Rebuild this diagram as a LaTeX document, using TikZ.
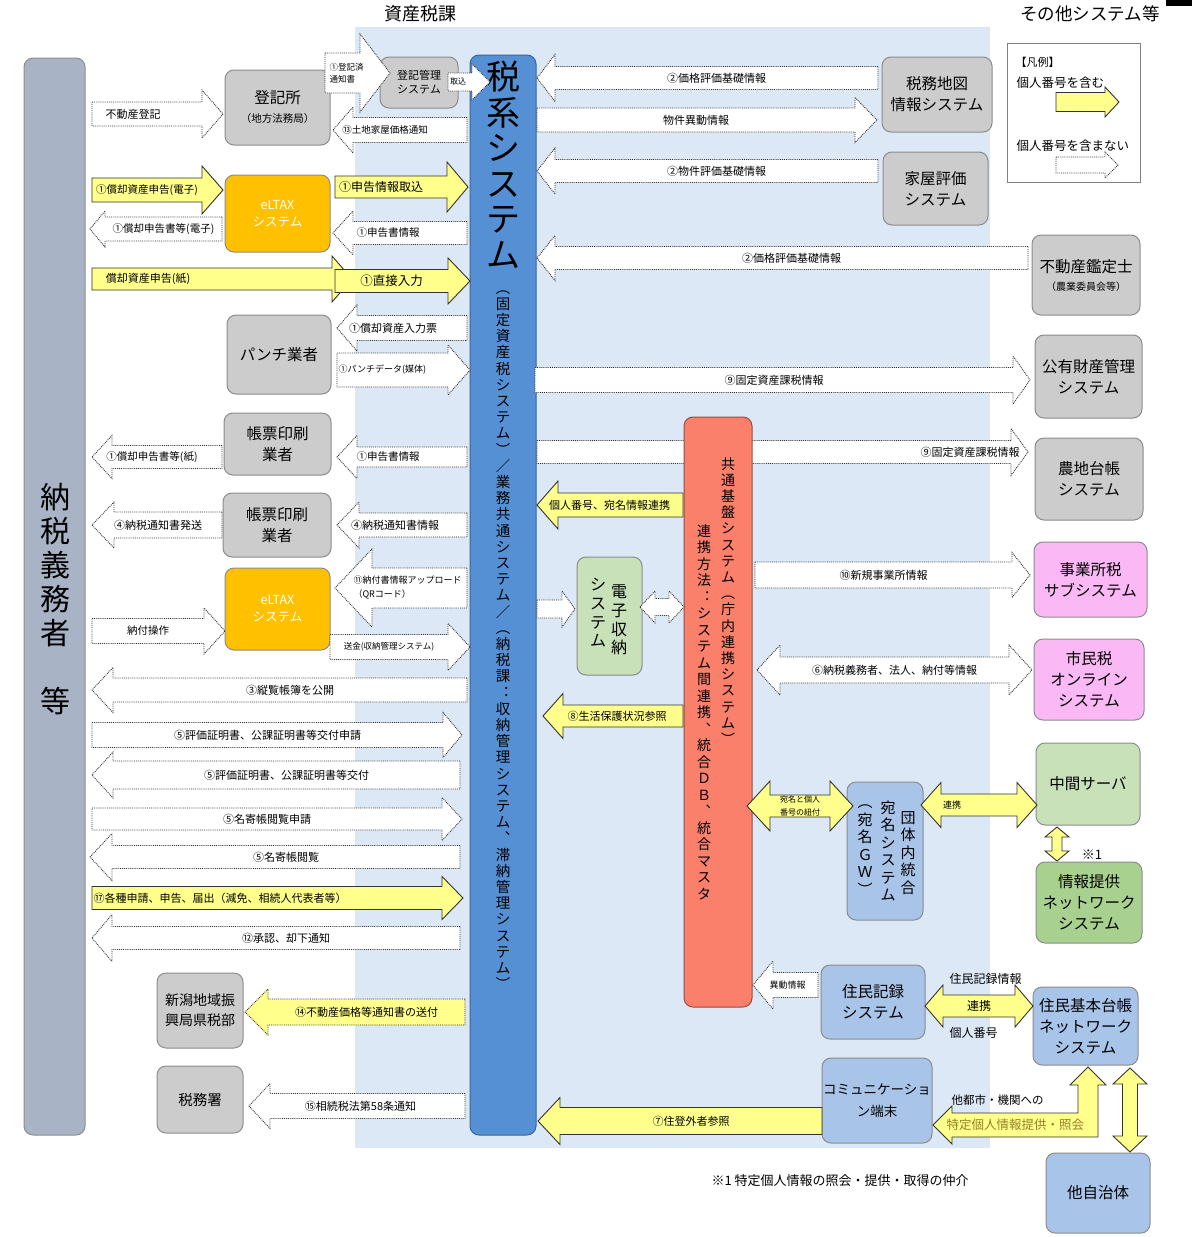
\documentclass[tikz,border=0pt]{standalone}
\usepackage{fontspec}
\setmainfont{Noto Sans CJK JP}

\definecolor{bgblue}{RGB}{220,232,245}
\definecolor{barblue}{RGB}{86,144,212}
\definecolor{leftgray}{RGB}{168,180,198}
\definecolor{boxgray}{RGB}{204,204,204}
\definecolor{eltaxor}{RGB}{255,192,0}
\definecolor{kyored}{RGB}{250,128,108}
\definecolor{pinkbox}{RGB}{250,185,245}
\definecolor{lgreen}{RGB}{200,225,185}
\definecolor{mgreen}{RGB}{168,208,142}
\definecolor{lblue}{RGB}{168,196,232}
\definecolor{ayellow}{RGB}{255,255,140}
\definecolor{olivetext}{RGB}{150,130,40}

% vertical (tate) text: one character per line
\makeatletter
\def\tate@end{}
\newcommand{\tate}[1]{\gdef\tate@out{}\tate@first#1\tate@end\tate@out}
\def\tate@first#1{\ifx#1\tate@end\else\g@addto@macro\tate@out{#1}\expandafter\tate@next\fi}
\def\tate@next#1{\ifx#1\tate@end\else\g@addto@macro\tate@out{\\#1}\expandafter\tate@next\fi}
\makeatother

\tikzset{
  sysbox/.style={rectangle, rounded corners=9, draw=black!45, line width=1, align=center,
    inner sep=1, font=\fontsize{15.5}{21}\selectfont},
  gbox/.style={sysbox, fill=boxgray},
  obox/.style={sysbox, fill=eltaxor, text=white, font=\fontsize{12.5}{17}\selectfont},
  pbox/.style={sysbox, fill=pinkbox},
  lgbox/.style={sysbox, fill=lgreen},
  mgbox/.style={sysbox, fill=mgreen},
  blbox/.style={sysbox, fill=lblue},
  vtext/.style={align=center, inner sep=0},
  wfill/.style={draw=black!80, densely dotted, line width=0.9, fill=white},
  yfill/.style={draw=black!80, line width=0.9, fill=ayellow},
  ydfill/.style={draw=black!80, densely dotted, line width=0.9, fill=ayellow},
  abox/.style={wfill},
  yel/.style={abox/.style={yfill}},
  ydash/.style={abox/.style={ydfill}},
  alabel/.style={inner sep=0, align=center, font=\fontsize{11}{13}\selectfont},
  abody/.code={\def\abody{#1}},
  ahead/.code={\def\ahead{#1}},
  alen/.code={\def\alen{#1}},
  abody=12, ahead=24, alen=21,
}

% block arrow: [style]{name}{tail x}{tip x}{y}{label}[label options]
\NewDocumentCommand{\harrow}{O{} m m m m m O{}}{%
  \begin{scope}[#1]
    \pgfmathsetmacro{\ahb}{#4-sign(#4-#3)*\alen}
    \draw[abox] (#3,#5-\abody) -- (\ahb,#5-\abody) -- (\ahb,#5-\ahead) -- (#4,#5)
      -- (\ahb,#5+\ahead) -- (\ahb,#5+\abody) -- (#3,#5+\abody) -- cycle;
    \node[alabel,#7] (#2) at ({(#3+\ahb)/2},#5) {#6};
  \end{scope}}

% double block arrow: [style]{name}{left tip}{right tip}{y}{label}[label options]
\NewDocumentCommand{\hdarrow}{O{} m m m m m O{}}{%
  \begin{scope}[#1]
    \draw[abox] (#3,#5) -- (#3+\alen,#5-\ahead) -- (#3+\alen,#5-\abody) -- (#4-\alen,#5-\abody)
      -- (#4-\alen,#5-\ahead) -- (#4,#5) -- (#4-\alen,#5+\ahead) -- (#4-\alen,#5+\abody)
      -- (#3+\alen,#5+\abody) -- (#3+\alen,#5+\ahead) -- cycle;
    \node[alabel,#7] (#2) at ({(#3+#4)/2},#5) {#6};
  \end{scope}}

% vertical double block arrow: [style]{name}{x}{top tip}{bottom tip}
\NewDocumentCommand{\vdarrow}{O{} m m m m}{%
  \begin{scope}[#1]
    \draw[abox] (#3,#4) -- (#3+\ahead,#4+\alen) -- (#3+\abody,#4+\alen) -- (#3+\abody,#5-\alen)
      -- (#3+\ahead,#5-\alen) -- (#3,#5) -- (#3-\ahead,#5-\alen) -- (#3-\abody,#5-\alen)
      -- (#3-\abody,#4+\alen) -- (#3-\ahead,#4+\alen) -- cycle;
    \coordinate (#2) at (#3,{(#4+#5)/2});
  \end{scope}}

\begin{document}
\begin{tikzpicture}[x=1pt, y=-1pt]
    \useasboundingbox (0,0) rectangle (1192,1237);

    % Background of the property tax section
    \fill[bgblue] (355,27) rectangle (990,1148);
    \fill[black] (1166,0) rectangle (1192,6);

    % Section titles
    \node[font=\fontsize{18}{20}\selectfont] (tShisan) at (420,14) {資産税課};
    \node[font=\fontsize{17.5}{20}\selectfont] (tSonota) at (1090,14) {その他システム等};

    % Taxpayers on the far left
    \node[sysbox, fill=leftgray, minimum width=61, minimum height=1077] (nozei) at (54.5,596.5) {};
    \node[vtext, font=\fontsize{30}{34}\selectfont] (nozeiT) at (55,599) {\tate{納税義務者　等}};

    % Main tax system bar
    \node[sysbox, fill=barblue, draw=barblue!70!black, minimum width=66, minimum height=1080] (zeikei) at (503,595) {};
    \node[vtext, font=\fontsize{34}{35.5}\selectfont] (zeikeiT) at (503,165) {\tate{税系システム}};
    \node[vtext, font=\fontsize{14.5}{16.2}\selectfont] (zeikeiS) at (503,640)
      {\tate{︵固定資産税システム︶／業務共通システム／︵納税課︓収納管理システム︑滞納管理システム︶}};

    % Left column boxes
    \node[gbox, minimum width=105, minimum height=75] (tokisho) at (277.5,107.5)
      {登記所\\[-2pt]{\fontsize{10.5}{12}\selectfont（地方法務局）}};
    \node[gbox, font=\fontsize{11}{14}\selectfont, minimum width=78, minimum height=51] (tokikanri) at (419,82.5) {登記管理\\システム};
    \node[obox, minimum width=105, minimum height=77] (eltaxA) at (277.5,213.5) {eLTAX\\システム};
    \node[gbox, minimum width=104, minimum height=79] (punch) at (279,354.5) {パンチ業者};
    \node[gbox, minimum width=107, minimum height=62] (chohyoA) at (277.5,444) {帳票印刷\\業者};
    \node[gbox, minimum width=108, minimum height=64] (chohyoB) at (277,525) {帳票印刷\\業者};
    \node[obox, minimum width=105, minimum height=82] (eltaxB) at (277.5,609) {eLTAX\\システム};
    \node[gbox, font=\fontsize{14}{20}\selectfont, minimum width=86, minimum height=75] (kenzei) at (200,1010.5) {新潟地域振\\興局県税部};
    \node[gbox, font=\fontsize{14.5}{20}\selectfont, minimum width=86, minimum height=67] (zeimusho) at (200,1099.5) {税務署};

    % Right column boxes
    \node[gbox, minimum width=110, minimum height=75] (chizu) at (937,94.5) {税務地図\\情報システム};
    \node[gbox, minimum width=105, minimum height=73] (kaoku) at (935.5,188.5) {家屋評価\\システム};
    \node[gbox, minimum width=108, minimum height=80] (kanteishi) at (1086,275)
      {不動産鑑定士\\[-3pt]{\fontsize{10}{12}\selectfont（農業委員会等）}};
    \node[gbox, minimum width=107, minimum height=83] (koyu) at (1088.5,376.5) {公有財産管理\\システム};
    \node[gbox, minimum width=108, minimum height=82] (nochi) at (1089,479) {農地台帳\\システム};
    \node[pbox, minimum width=113, minimum height=75] (jigyosho) at (1090.5,579.5) {事業所税\\サブシステム};
    \node[pbox, minimum width=110, minimum height=81] (shiminzei) at (1089,679.5) {市民税\\オンライン\\システム};
    \node[lgbox, minimum width=104, minimum height=82] (chukan) at (1088,784) {中間サーバ};
    \node[mgbox, minimum width=106, minimum height=81] (joho) at (1089,902.5) {情報提供\\ネットワーク\\システム};
    \node[blbox, minimum width=104, minimum height=74] (jumin) at (873,1002) {住民記録\\システム};
    \node[blbox, minimum width=105, minimum height=78] (jukinet) at (1085.5,1026) {住民基本台帳\\ネットワーク\\システム};
    \node[blbox, font=\fontsize{13.5}{22}\selectfont, minimum width=110, minimum height=85] (comm) at (877,1100.5) {コミュニケーショ\\ン端末};
    \node[blbox, minimum width=104, minimum height=80] (tajichitai) at (1098,1193) {他自治体};

    % Address system (vertical text)
    \node[blbox, minimum width=76, minimum height=138] (atena) at (885,851) {};
    \node[vtext, font=\fontsize{15}{17.5}\selectfont] (atenaA) at (908,853) {\tate{団体内統合}};
    \node[vtext, font=\fontsize{15}{17.5}\selectfont] (atenaB) at (888,851) {\tate{宛名システム}};
    \node[vtext, font=\fontsize{15}{17.5}\selectfont] (atenaC) at (865,850) {\tate{︵宛名ＧＷ︶}};

    % Electronic payment system
    \node[lgbox, minimum width=65, minimum height=118] (denshi) at (609.5,616) {};
    \node[vtext, font=\fontsize{16}{18.7}\selectfont] (denshiA) at (619,620) {\tate{電子収納}};
    \node[vtext, font=\fontsize{16}{18.7}\selectfont] (denshiB) at (598,613) {\tate{システム}};

    % Registration office arrows
    \harrow{aFudosan}{92}{223}{114}{不動産登記}[xshift=-14]
    \harrow[abody=20, ahead=39, alen=30]{aTokizumi}{325}{390}{73}{①登記済\\通知書}[font=\fontsize{8.5}{12}\selectfont, align=left, xshift=4]
    \harrow[abody=9, ahead=18, alen=18]{aTorikomi}{448}{490}{82}{取込}[font=\fontsize{8}{9}\selectfont, xshift=-2]
    \harrow[abody=12.5, ahead=23, alen=20]{aKakaku13}{467}{333}{130}{⑬土地家屋価格通知}[font=\fontsize{9.5}{11}\selectfont, xshift=-25]

    % Electronic filing through eLTAX
    \harrow[yel]{aShinkokuE}{92}{223}{190}{①償却資産申告(電子)}[font=\fontsize{10.5}{12}\selectfont]
    \harrow[yel, abody=11, ahead=25]{aTorikomiE}{335}{468}{187}{①申告情報取込}[font=\fontsize{12}{14}\selectfont, xshift=-10]
    \harrow[ahead=18, alen=15]{aShinkokushoE}{222}{90}{229}{①償却申告書等(電子)}[font=\fontsize{10.5}{12}\selectfont]
    \harrow[abody=11.5, ahead=22, alen=20]{aShinkokuInfoA}{467}{333}{233}{①申告書情報}[font=\fontsize{10.5}{12}\selectfont, xshift=-22]

    % Paper filing
    \harrow[yel, abody=11, ahead=23, alen=20]{aShinkokuP}{92}{352}{279}{償却資産申告(紙)}[xshift=-64]
    \harrow[yel, abody=11.5, ahead=23, alen=22]{aChokusetsu}{335}{470}{281}{①直接入力}[font=\fontsize{12.5}{14}\selectfont]

    % Punch operator
    \harrow[abody=12.5, ahead=23, alen=20]{aNyuryokuhyo}{467}{337}{328}{①償却資産入力票}[xshift=-19]
    \harrow[abody=17, ahead=25, alen=22]{aPunchData}{337}{470}{370}{①パンチデータ(媒体)}[font=\fontsize{9}{11}\selectfont, xshift=-10]

    % Form printing
    \harrow[abody=11.5, ahead=21.5, alen=20]{aShinkokushoP}{222}{92}{457}{①償却申告書等(紙)}[font=\fontsize{10.5}{12}\selectfont, xshift=-15]
    \harrow[abody=10, ahead=21.5, alen=20]{aShinkokuInfoB}{467}{337}{457}{①申告書情報}[font=\fontsize{10.5}{12}\selectfont, xshift=-24]
    \harrow[abody=13, ahead=23, alen=22]{aHasso}{222}{92}{525}{④納税通知書発送}[xshift=-10]
    \harrow[abody=12, ahead=23, alen=22]{aTsuchiInfo}{467}{337}{525}{④納税通知書情報}[xshift=-18]

    % eLTAX payment
    \harrow[abody=20, ahead=39, alen=37]{aUpload}{467}{335}{588}{⑪納付書情報アップロード\\（QRコード）}[font=\fontsize{9}{14}\selectfont, align=left, xshift=-12]
    \harrow[abody=12.5, ahead=23]{aNofu}{92}{225}{631}{納付操作}[font=\fontsize{10.5}{12}\selectfont]
    \harrow[abody=12.5, ahead=23.5, alen=22]{aSokin}{330}{470}{647}{送金(収納管理システム)}[font=\fontsize{8.5}{11}\selectfont]

    % Public inspection and certificates
    \harrow[ahead=22.5]{aJuran}{467}{92}{690}{③縦覧帳簿を公開}
    \harrow[abody=12.5, ahead=22.5, alen=19]{aShinsei}{92}{462}{735}{⑤評価証明書、公課証明書等交付申請}
    \harrow[abody=14, ahead=23]{aKofu}{460}{92}{775}{⑤評価証明書、公課証明書等交付}
    \harrow[abody=11, ahead=21.5, alen=20]{aNayoseS}{92}{462}{819}{⑤名寄帳閲覧申請}
    \harrow[abody=11.5, ahead=23.5, alen=22]{aNayose}{460}{90}{857}{⑤名寄帳閲覧}
    \harrow[yel, abody=11.5, ahead=21.5, alen=21]{aKakushu}{92}{463}{898}{⑰各種申請、申告、届出（減免、相続人代表者等）}[xshift=-47]
    \harrow[abody=11.5, ahead=23.5, alen=20]{aShonin}{460}{92}{938}{⑫承認、却下通知}

    % Notices to other tax offices
    \harrow[ydash, abody=13, ahead=23, alen=23]{aKenzei}{465}{245}{1012}{⑭不動産価格等通知書の送付}
    \harrow[abody=12.5, ahead=22.5, alen=21]{aZeimusho}{465}{249}{1106}{⑮相続税法第58条通知}[xshift=-7]

    % Maps, housing and appraisers
    \harrow[abody=11.5, ahead=23.5, alen=18]{aKakakuA}{878}{537}{78}{②価格評価基礎情報}
    \harrow[abody=12, ahead=22.5, alen=22]{aIdo}{537}{877}{120}{物件異動情報}
    \harrow[abody=11.5, ahead=23, alen=18]{aBukken}{878}{537}{171}{②物件評価基礎情報}
    \harrow[abody=11.5, ahead=22.5, alen=18]{aKakakuB}{1028}{537}{258}{②価格評価基礎情報}
    \harrow[abody=12.5, ahead=24, alen=17]{aKazeiA}{535}{1030}{380}{⑨固定資産課税情報}
    \harrow[abody=11.5, ahead=23.5, alen=17]{aKazeiB}{537}{1028}{452}{⑨固定資産課税情報}[xshift=196]

    % Common platform system
    \node[sysbox, fill=kyored, draw=kyored!60!black, minimum width=68, minimum height=590] (kyotsu) at (718,712) {};
    \node[vtext, font=\fontsize{14}{16.2}\selectfont] (kyotsuA) at (728,601) {\tate{共通基盤システム︵庁内連携システム︶}};
    \node[vtext, font=\fontsize{14}{16.5}\selectfont] (kyotsuB) at (704,712) {\tate{連携方法︓システム間連携︑統合ＤＢ︑統合マスタ}};

    % Arrows around the common platform
    \harrow[yel, abody=12, ahead=24, alen=21]{aKojin}{683}{537}{505}{個人番号、宛名情報連携}[xshift=-11]
    \harrow[abody=9, ahead=18, alen=13]{aDenshiIn}{537}{575}{609}{}
    \hdarrow[abody=8.5, ahead=16, alen=15]{aDenshi}{640}{684}{607}{}
    \harrow[yel, abody=11, ahead=22.5, alen=20]{aSeiho}{683}{543}{716}{⑧生活保護状況参照}[xshift=-6]
    \harrow[yel, abody=13.5, ahead=23.5, alen=22]{aJutogai}{822}{538}{1121}{⑦住登外者参照}

    % Other systems on the right
    \harrow[abody=13, ahead=22.5, alen=18]{aShinki}{755}{1030}{575}{⑩新規事業所情報}
    \hdarrow[abody=13, ahead=25, alen=23]{aNozeiInfo}{757}{1032}{670}{⑥納税義務者、法人、納付等情報}
    \hdarrow[yel, abody=11, ahead=25, alen=23]{aHimozuke}{747}{853}{806}{宛名と個人\\番号の紐付}[font=\fontsize{8}{13}\selectfont]
    \hdarrow[yel, abody=11, ahead=22.5, alen=20]{aRenkeiA}{921}{1037}{805}{連携}[font=\fontsize{9}{11}\selectfont, xshift=-27]
    \vdarrow[yel, abody=5, ahead=12, alen=10]{aChukan}{1057}{827}{861}
    \node[font=\fontsize{13}{15}\selectfont] (kome) at (1092,855) {※1};

    % Resident records
    \harrow[abody=12.5, ahead=24, alen=20]{aIdoJ}{818}{753}{985}{異動情報}[font=\fontsize{9}{11}\selectfont, xshift=-8]
    \hdarrow[yel, abody=11, ahead=21, alen=18]{aRenkeiB}{925}{1033}{1006}{連携}[font=\fontsize{12}{14}\selectfont]
    \node[anchor=west, font=\fontsize{12}{14}\selectfont] (lJuminInfo) at (946,979) {住民記録情報};
    \node[anchor=west, font=\fontsize{12}{14}\selectfont] (lKojin) at (946,1033) {個人番号};

    % Resident network to communication terminal
    \draw[yfill] (933,1125) -- (952,1106) -- (952,1113) -- (1078,1113) -- (1078,1085) -- (1070,1085)
      -- (1088,1067) -- (1106,1085) -- (1098,1085) -- (1098,1137) -- (952,1137) -- (952,1144) -- cycle;
    \node[anchor=west, font=\fontsize{11.5}{13}\selectfont] (lTatoshi) at (948,1100) {他都市・機関への};
    \node[anchor=west, font=\fontsize{12.5}{14}\selectfont, text=olivetext] (lTokutei) at (943,1125) {特定個人情報提供・照会};
    \vdarrow[yel, abody=7.5, ahead=17, alen=16]{aTajichi}{1130}{1068}{1152}

    % Legend
    \node[draw=black!50, fill=white, line width=0.8, minimum width=133, minimum height=139, inner sep=0] (legend) at (1074,112.5) {};
    \node[anchor=west, font=\fontsize{11}{13}\selectfont] (legT) at (1012,62) {【凡例】};
    \node[anchor=west, font=\fontsize{12.5}{14}\selectfont] (legY) at (1013,83) {個人番号を含む};
    \harrow[yel, abody=9.5, ahead=15, alen=14]{legYA}{1056}{1119}{102}{}
    \node[anchor=west, font=\fontsize{12.5}{14}\selectfont] (legW) at (1013,146) {個人番号を含まない};
    \harrow[abody=8, ahead=13, alen=13]{legWA}{1056}{1118}{165}{}

    % Footnote
    \node[anchor=west, font=\fontsize{13}{15}\selectfont] (note) at (708,1181) {※1 特定個人情報の照会・提供・取得の仲介};

\end{tikzpicture}
\end{document}
